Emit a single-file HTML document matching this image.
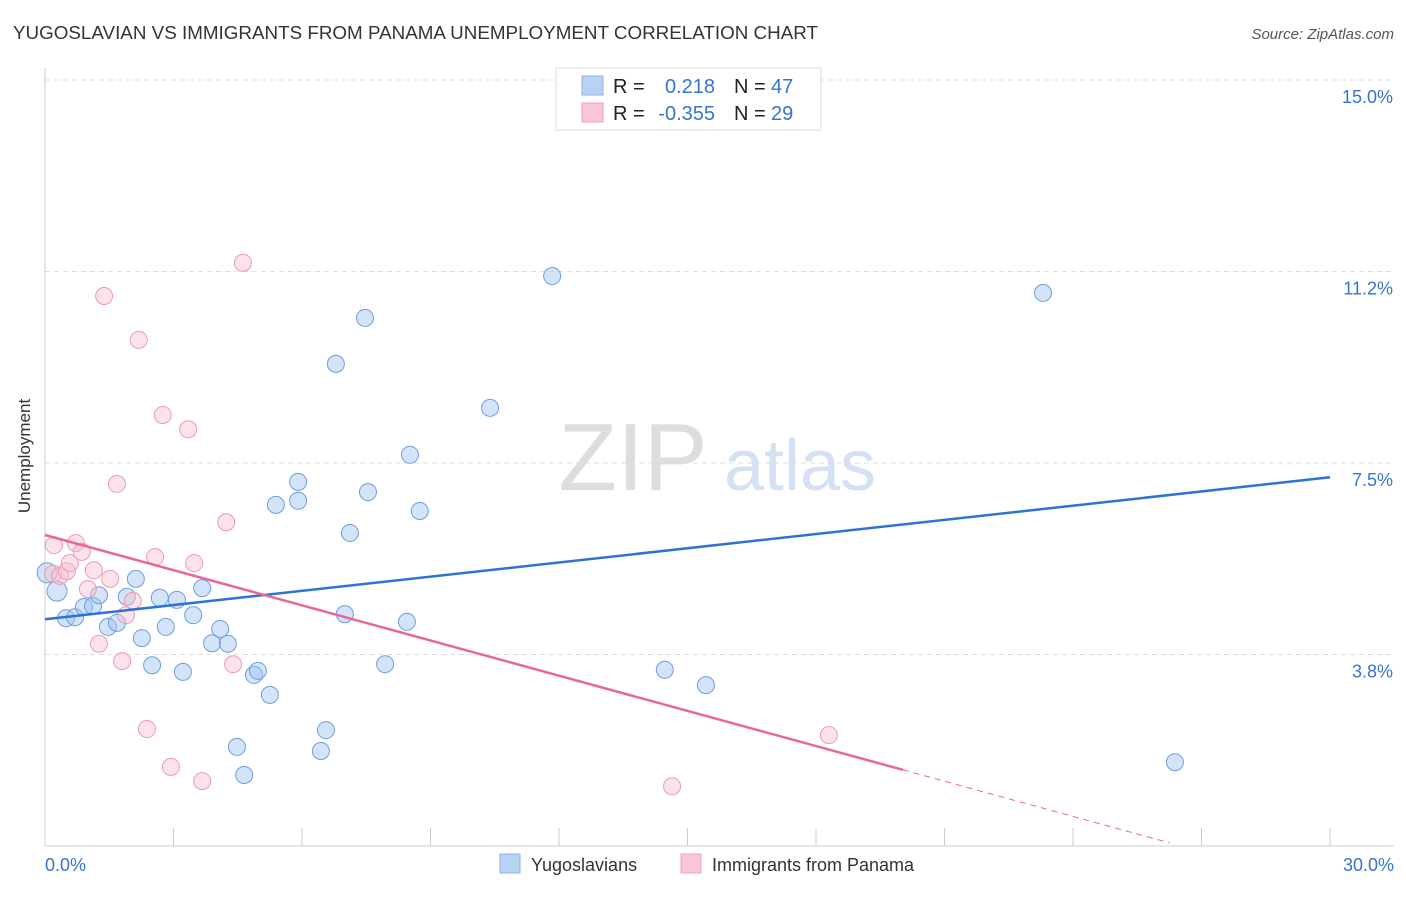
<!DOCTYPE html>
<html><head><meta charset="utf-8"><style>
body{margin:0;background:#fff;font-family:"Liberation Sans",sans-serif;}
svg text{font-family:"Liberation Sans",sans-serif;}
</style></head><body>
<svg id="chart" width="1406" height="892" xmlns="http://www.w3.org/2000/svg">
<text x="13" y="39" font-size="18" fill="#333" textLength="805" lengthAdjust="spacingAndGlyphs">YUGOSLAVIAN VS IMMIGRANTS FROM PANAMA UNEMPLOYMENT CORRELATION CHART</text>
<text x="1394" y="39" font-size="15" fill="#555" font-style="italic" text-anchor="end">Source: ZipAtlas.com</text>
<g>
<text x="633" y="490" font-size="96" font-family="Liberation Serif,serif" fill="#ddd" text-anchor="middle">ZIP</text>
<text x="800" y="490" font-size="72" fill="#d3e1f3" text-anchor="middle">atlas</text>
</g>
<g id="grid"></g><g id="marks"></g>
<text x="30" y="456" font-size="17" fill="#333" transform="rotate(-90 30 456)" text-anchor="middle">Unemployment</text>
<g>
<rect x="556" y="68" width="265" height="62" fill="#fff" stroke="#ddd"/>
<rect x="582" y="76" width="21" height="19" fill="#b8d2f4" stroke="#8fb3e8"/>
<rect x="582" y="103" width="21" height="19" fill="#f9c6d6" stroke="#efa2bb"/>
<text x="613" y="93" font-size="20" fill="#222">R =</text><text x="715" y="93" font-size="20" fill="#3574d4" text-anchor="end">0.218</text>
<text x="734" y="93" font-size="20" fill="#222">N =</text><text x="771" y="93" font-size="20" fill="#3574d4">47</text>
<text x="613" y="120" font-size="20" fill="#222">R =</text><text x="715" y="120" font-size="20" fill="#3574d4" text-anchor="end">-0.355</text>
<text x="734" y="120" font-size="20" fill="#222">N =</text><text x="771" y="120" font-size="20" fill="#3574d4">29</text>
</g>
<g>
<rect x="500" y="854" width="20" height="19" fill="#b8d2f4" stroke="#8fb3e8"/>
<text x="531" y="871" font-size="18" fill="#333">Yugoslavians</text>
<rect x="681" y="854" width="20" height="19" fill="#f9c6d6" stroke="#efa2bb"/>
<text x="712" y="871" font-size="18" fill="#333">Immigrants from Panama</text>
</g>
</svg>
<script>
const xTicks=[0,3,6,9,12,15,18,21,24,27,30];
const yTicks=[15,11.25,7.5,3.75];
const yTickLabels=["15.0%","11.2%","7.5%","3.8%"];
const blueX=[0.28,0.49,0.70,0.91,1.12,1.26,1.47,1.68,2.12,1.91,2.26,2.50,2.68,2.82,3.08,3.22,3.46,3.67,3.90,4.09,4.27,4.48,4.65,4.88,4.97,5.25,5.39,5.91,5.91,6.44,6.56,6.79,7.00,7.12,7.47,7.54,7.94,8.45,8.52,8.75,10.39,11.84,14.47,15.43,23.30,26.38,0.05];
const blueY=[4.99,4.46,4.48,4.68,4.70,4.91,4.29,4.37,5.23,4.88,4.07,3.54,4.86,4.29,4.82,3.41,4.52,5.05,3.97,4.25,3.96,1.94,1.39,3.35,3.43,2.96,6.68,7.13,6.76,1.86,2.27,9.44,4.54,6.13,10.34,6.93,3.56,4.39,7.66,6.56,8.58,11.16,3.45,3.15,10.83,1.64,5.35];
const pinkX=[0.19,0.21,0.35,0.51,0.58,0.72,0.86,1.00,1.14,1.26,1.38,1.52,1.68,1.80,1.89,2.05,2.19,2.38,2.57,2.75,2.94,3.34,3.48,3.67,4.23,4.39,4.62,14.64,18.30];
const pinkY=[5.33,5.89,5.29,5.38,5.54,5.93,5.76,5.03,5.40,3.96,10.77,5.23,7.09,3.62,4.52,4.80,9.91,2.29,5.66,8.44,1.55,8.16,5.54,1.27,6.34,3.56,11.42,1.17,2.17];
const blueTrend=[4.44,7.22];
const pinkTrend=[6.09,-0.2296];
const pinkSolidEnd=20.03, pinkDashEnd=26.26;
const X=v=>45+v/30*1285, Y=v=>846-v*51.07;
const NS="http://www.w3.org/2000/svg";
const grid=document.getElementById('grid'), marks=document.getElementById('marks');
function mk(tag,attrs,parent){const e=document.createElementNS(NS,tag);for(const k in attrs)e.setAttribute(k,attrs[k]);parent.appendChild(e);return e;}
yTicks.forEach((t,i)=>{
 const l=mk('line',{x1:45,x2:1394,y1:Y(t),y2:Y(t),stroke:'#ddd','stroke-dasharray':'5,4'},grid);
 
 
 const tx=mk('text',{x:1393,y:Y(t)+23,'font-size':18,fill:'#3574d4','text-anchor':'end'},grid);
 tx.textContent=yTickLabels[i];
 
 
});
const ax=mk('line',{x1:45,x2:45,y1:68,y2:846,stroke:'#ccc'},grid);


const bx=mk('line',{x1:45,x2:1394,y1:846,y2:846,stroke:'#ccc'},grid);


xTicks.forEach(t=>{
 const l=mk('line',{x1:X(t),x2:X(t),y1:828,y2:846,stroke:'#ccc'},grid);
 
 
});
[[0,'0.0%','start',45],[30,'30.0%','end',1394]].forEach(a=>{
 const t=mk('text',{x:a[3],y:871,'font-size':18,fill:'#3574d4','text-anchor':a[2]},grid);
 t.textContent=a[1];
 
 
});
blueX.forEach((v,i)=>{
 const big=(i===0||i===46);
 const c=mk('circle',{cx:X(v),cy:Y(blueY[i]),r:big?10:8.5,fill:'rgba(160,195,240,0.45)',stroke:'#6c9ee0','stroke-width':1},marks);
 
 
});
pinkX.forEach((v,i)=>{
 const c=mk('circle',{cx:X(v),cy:Y(pinkY[i]),r:8.5,fill:'rgba(248,190,208,0.45)',stroke:'#ee9ab5','stroke-width':1},marks);
 
 
});
const bl=mk('line',{x1:X(0),y1:Y(blueTrend[0]),x2:X(30),y2:Y(blueTrend[1]),stroke:'#2f72d6','stroke-width':2.5},marks);


const pf=x=>pinkTrend[0]+pinkTrend[1]*x;
const pl=mk('line',{x1:X(0),y1:Y(pf(0)),x2:X(pinkSolidEnd),y2:Y(pf(pinkSolidEnd)),stroke:'#e8679a','stroke-width':2.5},marks);


const pd=mk('line',{x1:X(pinkSolidEnd),y1:Y(pf(pinkSolidEnd)),x2:X(pinkDashEnd),y2:Y(pf(pinkDashEnd)),stroke:'#e8679a','stroke-width':1,'stroke-dasharray':'6,5'},marks);


</script>
</body></html>
